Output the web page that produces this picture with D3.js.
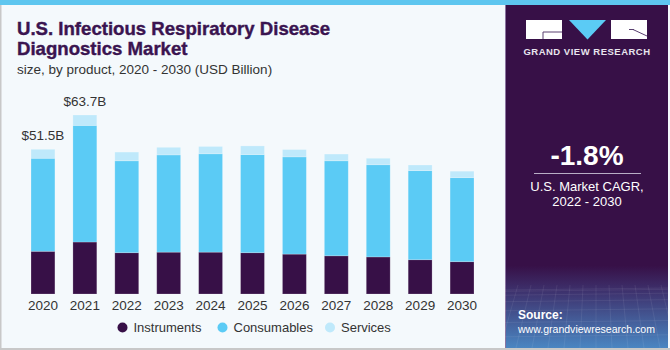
<!DOCTYPE html>
<html>
<head>
<meta charset="utf-8">
<script src="https://cdn.jsdelivr.net/npm/d3@7"></script>
<style>
    html, body { margin: 0; padding: 0; background: #f4f9fc; }
    svg { display: block; font-family: 'Liberation Sans', Arial, sans-serif; }
</style>
</head>
<body>
<div id="chart"></div>
<script>
// chart data
const years = ['2020','2021','2022','2023','2024','2025','2026','2027','2028','2029','2030'];
const instruments = [15.2, 18.5, 14.7, 14.9, 14.9, 14.7, 14.2, 13.6, 13.2, 12.2, 11.5];
const consumables = [33.1, 41.5, 32.7, 34.6, 35.0, 34.9, 34.6, 33.8, 32.8, 31.7, 29.9];
const services = [3.2, 3.7, 3.1, 2.7, 2.6, 3.1, 2.6, 2.4, 2.3, 2.0, 2.3];
const series = ['Instruments', 'Consumables', 'Services'];
const valueLabels = [{year:'2020', text:'$51.5B'}, {year:'2021', text:'$63.7B'}];

// defining global variables
const W = 670, H = 350;
const colors = {Instruments:'#371047', Consumables:'#5bcbf5', Services:'#bfe9fb'};
const dark = '#3a1450';

// building table for the stack layout
const table = years.map((y, i) => ({
    year: y,
    Instruments: instruments[i],
    Consumables: consumables[i],
    Services: services[i]
}));
const totalOf = year => {
    const t = table.find(r => r.year === year);
    return t.Instruments + t.Consumables + t.Services;
};

const svg = d3.select('#chart').append('svg')
    .attr('width', W)
    .attr('height', H);

// background + frame lines
svg.append('rect').attr('width', W).attr('height', H).attr('fill', '#f4f9fc');
svg.append('rect').attr('x', 0).attr('y', 0).attr('width', W).attr('height', 5).attr('fill', '#5ec6ef');
svg.append('rect').attr('x', 0).attr('y', 5).attr('width', 1.5).attr('height', H - 5).attr('fill', '#c8c8c8');
svg.append('rect').attr('x', 0).attr('y', H - 2).attr('width', W).attr('height', 2).attr('fill', '#c8c8c8');

/* HEADER */
const header = svg.append('g').attr('fill', dark)
    .style('font-weight', 'bold')
    .style('font-size', '18.6px');
header.append('text').attr('x', 17).attr('y', 35).text('U.S. Infectious Respiratory Disease')
    .attr('stroke', dark).attr('stroke-width', 0.4);
header.append('text').attr('x', 17).attr('y', 55).text('Diagnostics Market')
    .attr('stroke', dark).attr('stroke-width', 0.4);
svg.append('text').attr('x', 17).attr('y', 74)
    .attr('fill', '#333').style('font-size', '13.5px')
    .text('size, by product, 2020 - 2030 (USD Billion)');

// setting up scales
const scaleX = d3.scaleBand()
    .domain(years)
    .range([13, 492])
    .padding(0.43);
const scaleY = d3.scaleLinear()
    .domain([0, 70])
    .range([294, 294 - 70 * 2.81]);

// stacked layers
const stack = d3.stack().keys(series);
const layers = stack(table);

const plot = svg.append('g').classed('plot', true);
plot.selectAll('.layer')
    .data(layers)
    .join('g')
    .attr('class', 'layer')
    .attr('fill', d => colors[d.key])
    .selectAll('rect')
    .data(d => d)
    .join('rect')
    .attr('x', d => scaleX(d.data.year))
    .attr('width', scaleX.bandwidth())
    .attr('y', d => scaleY(d[1]))
    .attr('height', d => scaleY(d[0]) - scaleY(d[1]))
    .attr('stroke', 'rgba(255,255,255,0.25)')
    .attr('stroke-width', 0.8);

// value labels on the first two bars
plot.selectAll('.value-label')
    .data(valueLabels)
    .join('text')
    .attr('class', 'value-label')
    .attr('x', d => scaleX(d.year) + scaleX.bandwidth() / 2)
    .attr('y', d => scaleY(totalOf(d.year)) - 9)
    .attr('text-anchor', 'middle')
    .attr('fill', '#333')
    .style('font-size', '13.5px')
    .text(d => d.text);

// x-axis
const axisX = d3.axisBottom(scaleX).tickSize(0).tickPadding(6);
const axisXNode = svg.append('g')
    .attr('class', 'axis axis-x')
    .attr('transform', 'translate(0,294)')
    .call(axisX);
axisXNode.select('.domain').remove();
axisXNode.selectAll('text')
    .attr('fill', '#333')
    .style('font-size', '13.5px')
    .style('font-family', "'Liberation Sans', Arial, sans-serif");

// legend
const legendItems = [{k:'Instruments', x:122.5}, {k:'Consumables', x:222.5}, {k:'Services', x:330}];
const legend = svg.append('g').attr('class', 'legend');
const li = legend.selectAll('g').data(legendItems).join('g')
    .attr('transform', d => `translate(${d.x},327.5)`);
li.append('circle').attr('r', 5).attr('fill', d => colors[d.k]);
li.append('text').attr('x', 11).attr('y', 4.5)
    .attr('fill', '#333').style('font-size', '13px')
    .text(d => d.k);

/* RIGHT PANEL */
const defs = svg.append('defs');
const grad = defs.append('linearGradient').attr('id', 'pg')
    .attr('x1', 0).attr('y1', 0).attr('x2', 0).attr('y2', 1);
grad.append('stop').attr('offset', '0%').attr('stop-color', '#371047');
grad.append('stop').attr('offset', '76%').attr('stop-color', '#371047');
grad.append('stop').attr('offset', '84%').attr('stop-color', '#3e3470');
grad.append('stop').attr('offset', '100%').attr('stop-color', '#4a86c2');

const px = 505, pw = 163;
const panel = svg.append('g').attr('class', 'panel');
panel.append('rect').attr('x', px).attr('y', 5).attr('width', pw).attr('height', H - 7)
    .attr('fill', 'url(#pg)');
panel.append('rect').attr('x', px).attr('y', 5).attr('width', 1).attr('height', H - 7).attr('fill', '#8a74a0');

// faint grid in the bottom of the panel
const gridG = panel.append('g').attr('stroke', 'rgba(255,255,255,0.12)').attr('stroke-width', 0.6);
d3.range(0, 14).forEach(i => {
    gridG.append('line').attr('x1', px + i * 13).attr('x2', px + i * 13 + (i - 7) * 3)
        .attr('y1', 285).attr('y2', 348);
});
d3.range(0, 7).forEach(i => {
    gridG.append('line').attr('x1', px).attr('x2', px + pw)
        .attr('y1', 290 + i * i * 1.3).attr('y2', 290 + i * i * 1.3 - 2);
});

// logo
const logo = panel.append('g');
logo.append('rect').attr('x', 526).attr('y', 20).attr('width', 36).attr('height', 19).attr('fill', '#fff');
logo.append('path').attr('d', 'M543,39 L543,32 L562,32').attr('fill', 'none').attr('stroke', '#5a4070').attr('stroke-width', 1);
logo.append('path').attr('d', 'M569,20 L606,20 L587.5,39.5 Z').attr('fill', '#5bcbf5');
logo.append('rect').attr('x', 611).attr('y', 20).attr('width', 36).attr('height', 19).attr('fill', '#fff');
logo.append('path').attr('d', 'M633,29.5 L647,36').attr('fill', 'none').attr('stroke', '#5a4070').attr('stroke-width', 1);
logo.append('path').attr('d', 'M629,29.5 L634,29.5').attr('fill', 'none').attr('stroke', '#5a4070').attr('stroke-width', 1);
panel.append('text').attr('x', 587).attr('y', 54.5).attr('text-anchor', 'middle')
    .attr('fill', '#e8e4ee').style('font-size', '9.5px').style('font-weight', 'bold')
    .style('letter-spacing', '0.5px').text('GRAND VIEW RESEARCH');

// CAGR
panel.append('text').attr('x', 587).attr('y', 165).attr('text-anchor', 'middle')
    .attr('fill', '#fff').style('font-size', '28px').style('font-weight', 'bold')
    .text('-1.8%');
panel.append('line').attr('x1', 534).attr('x2', 641).attr('y1', 173.5).attr('y2', 173.5)
    .attr('stroke', '#b9aec6').attr('stroke-width', 1);
panel.append('text').attr('x', 587).attr('y', 191).attr('text-anchor', 'middle')
    .attr('fill', '#fff').style('font-size', '13px').text('U.S. Market CAGR,');
panel.append('text').attr('x', 587).attr('y', 205.5).attr('text-anchor', 'middle')
    .attr('fill', '#fff').style('font-size', '13px').text('2022 - 2030');

// source
panel.append('text').attr('x', 518).attr('y', 319).attr('fill', '#fff')
    .style('font-size', '12px').style('font-weight', 'bold').text('Source:');
panel.append('text').attr('x', 518).attr('y', 333).attr('fill', '#fff')
    .style('font-size', '11px').attr('textLength', 137).attr('lengthAdjust', 'spacingAndGlyphs')
    .text('www.grandviewresearch.com');
</script>
</body>
</html>
